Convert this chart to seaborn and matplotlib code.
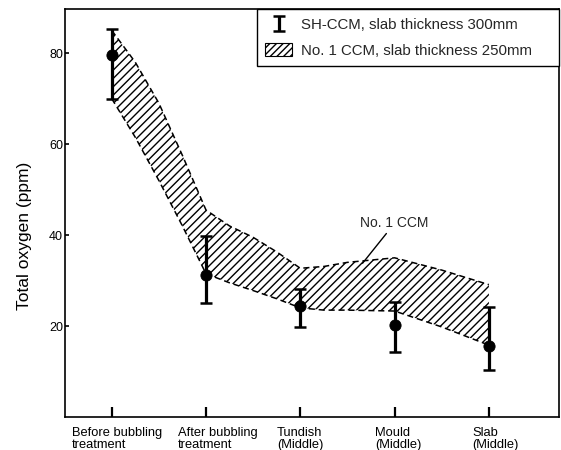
import numpy as np
import pandas as pd
import seaborn as sns
import matplotlib
matplotlib.use("Agg")
import matplotlib.pyplot as plt
from matplotlib.patches import Patch

# ---------------- data ----------------
stages = ["Before bubbling\ntreatment", "After bubbling\ntreatment",
          "Tundish\n(Middle)", "Mould\n(Middle)", "Slab\n(Middle)"]
stage_pos = [0, 1, 2, 3, 4]

sh_mean = [79.5, 31.2, 24.3, 20.2, 15.6]
sh_low = [70.0, 25.0, 19.8, 14.3, 10.3]
sh_high = [85.3, 39.9, 28.1, 25.3, 24.2]

band_x = [0.0, 0.25, 0.5, 0.75, 1.0, 1.25, 1.5, 1.75, 2.0, 2.25, 2.5, 3.0, 3.5, 4.0]
band_upper = [85.0, 78.0, 69.0, 57.5, 45.5, 42.0, 39.5, 36.3, 32.7, 33.1, 34.0, 35.0, 32.3, 29.1]
band_lower = [70.0, 61.5, 52.0, 42.0, 31.5, 29.5, 27.8, 26.0, 24.0, 23.5, 23.5, 23.3, 19.8, 15.8]

legend_labels = ["SH-CCM, slab thickness 300mm", "No. 1 CCM, slab thickness 250mm"]
annot_text = "No. 1 CCM"

# ---------------- style ----------------
sns.set_theme(style="ticks")
plt.rcParams["font.family"] = ["Liberation Sans", "DejaVu Sans"]
plt.rcParams["hatch.linewidth"] = 1.0
plt.rcParams["axes.edgecolor"] = "black"
plt.rcParams["axes.linewidth"] = 1.2

fig, ax = plt.subplots(figsize=(5.61, 4.5), dpi=100)
fig.subplots_adjust(left=0.1159, right=0.9964, bottom=0.0733, top=0.979)

# hatched band
ax.fill_between(band_x, band_lower, band_upper, facecolor="none",
                edgecolor="black", hatch="////", linewidth=0, zorder=1)
band_df = pd.DataFrame({"x": band_x, "upper": band_upper, "lower": band_lower})
sns.lineplot(data=band_df, x="x", y="upper", color="black", linewidth=1.1,
             linestyle=(0, (4, 2.5)), sort=False, ax=ax, zorder=2)
sns.lineplot(data=band_df, x="x", y="lower", color="black", linewidth=1.1,
             linestyle=(0, (4, 2.5)), sort=False, ax=ax, zorder=2)

# error bars + points
mean = np.array(sh_mean)
yerr = [mean - np.array(sh_low), np.array(sh_high) - mean]
eb = ax.errorbar(stage_pos, sh_mean, yerr=yerr, fmt="none", ecolor="black",
                 elinewidth=2.3, capsize=4, capthick=1.8, zorder=4)
pts = pd.DataFrame({"x": stage_pos, "y": sh_mean})
sns.scatterplot(data=pts, x="x", y="y", color="black", s=65, edgecolor="black",
                zorder=5, ax=ax, legend=False)

# annotation
ax.annotate(annot_text, xy=(2.66, 33.8), xytext=(3.0, 42.6), ha="center", va="center",
            fontsize=10, arrowprops=dict(arrowstyle="-", color="black", lw=1.0,
                                         shrinkA=0, shrinkB=0))

# axes
ax.set_xlim(-0.495, 4.743)
ax.set_ylim(0, 89.6)
ax.set_yticks([20, 40, 60, 80])
ax.set_xticks(stage_pos)
ax.set_xticklabels([])
label_shift_px = [5, 12, 0, 4, 7]
for pos, text, dx in zip(stage_pos, stages, label_shift_px):
    ax.annotate(text, xy=(pos, 0), xycoords=("data", "axes fraction"),
                xytext=(dx * 0.72, -7.5), textcoords="offset points",
                ha="center", va="top", multialignment="left", linespacing=1.0,
                fontsize=9.3, color="black", annotation_clip=False)
ax.tick_params(axis="x", direction="in", length=7, width=1.6, colors="black")
ax.tick_params(axis="y", direction="in", length=3, width=1.2, pad=1.5,
               labelsize=9, colors="black")
ax.set_xlabel("")
ax.set_ylabel("Total oxygen (ppm)", fontsize=12.5, color="black")
ax.yaxis.set_label_coords(-0.067, 0.445)
for s in ax.spines.values():
    s.set_visible(True)
    s.set_color("black")

# legend
hatch_patch = Patch(facecolor="white", edgecolor="black", hatch="/////", linewidth=0.8)
leg = ax.legend([eb, hatch_patch], legend_labels, loc="upper right",
                bbox_to_anchor=(0.3887, 0, 1 - 0.3887, 1), mode="expand",
                borderaxespad=0, fancybox=False,
                edgecolor="black", framealpha=1, fontsize=10.8, handlelength=1.8,
                handleheight=0.9, handletextpad=0.6, borderpad=0.55, labelspacing=0.75)
leg.get_frame().set_linewidth(1.0)

fig.savefig("out.png", dpi=100)
